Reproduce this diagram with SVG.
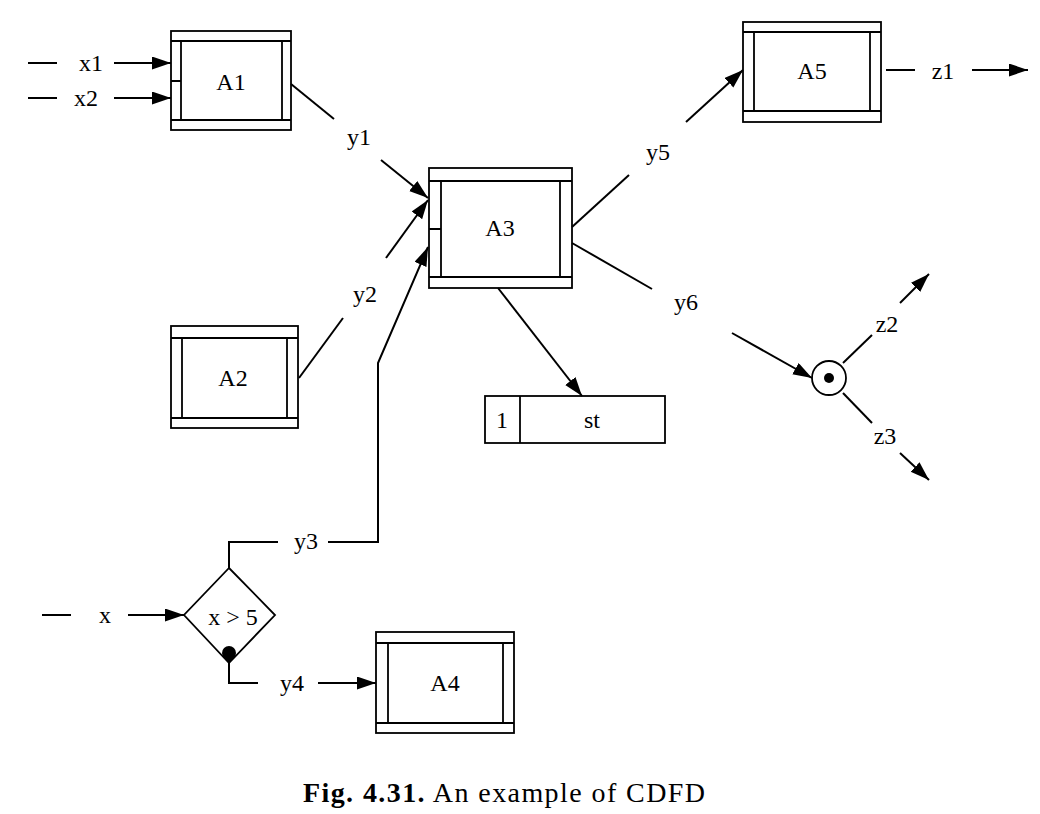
<svg xmlns="http://www.w3.org/2000/svg" width="1040" height="814" viewBox="0 0 1040 814">
<style>
.b{fill:#fff;stroke:#000;stroke-width:1.8}
.s{fill:none;stroke:#000;stroke-width:1.8}
.l{fill:none;stroke:#000;stroke-width:2}
.a{fill:none;stroke:#000;stroke-width:2;marker-end:url(#arr)}
text{font-family:"Liberation Serif","Times New Roman",serif;font-size:24px;fill:#000;text-anchor:middle}
</style>
<defs>
<marker id="arr" markerUnits="userSpaceOnUse" markerWidth="20" markerHeight="14" refX="19" refY="6.5" orient="auto">
<path d="M0,0 L19,6.5 L0,13 z" fill="#000"/>
</marker>
</defs>
<rect width="1040" height="814" fill="#fff"/>

<g id="A1">
<rect class="b" x="171" y="31" width="120" height="99"/>
<path class="s" d="M171,41 H291 M171,120 H291 M181,41 V120 M282,41 V120 M171,81 H181"/>
<text x="231" y="90">A1</text>
</g>
<g id="A2">
<rect class="b" x="171" y="326" width="127" height="102"/>
<path class="s" d="M171,338 H298 M171,418 H298 M182,338 V418 M287,338 V418"/>
<text x="233" y="386">A2</text>
</g>
<g id="A3">
<rect class="b" x="429" y="168" width="143" height="120"/>
<path class="s" d="M429,181 H572 M429,277 H572 M441,181 V277 M560,181 V277 M429,229 H441"/>
<text x="500" y="236">A3</text>
</g>
<g id="A5">
<rect class="b" x="743" y="22" width="138" height="100"/>
<path class="s" d="M743,32 H881 M743,111 H881 M754,32 V111 M870,32 V111"/>
<text x="812" y="79">A5</text>
</g>
<g id="A4">
<rect class="b" x="376" y="632" width="138" height="101"/>
<path class="s" d="M376,643 H514 M376,723 H514 M388,643 V723 M503,643 V723"/>
<text x="445" y="691">A4</text>
</g>
<g id="st">
<rect class="b" x="485" y="396" width="180" height="47"/>
<line class="s" x1="520" y1="396" x2="520" y2="443"/>
<text x="502" y="428">1</text>
<text x="592" y="428">st</text>
</g>
<g id="decision">
<polygon class="b" points="229,568 275,615 229,663 184,615"/>
<circle cx="229" cy="653" r="7" fill="#000"/>
<polygon points="222,656 236,656 229,663" fill="#000"/>
<text x="233" y="625">x &gt; 5</text>
</g>
<g id="merge">
<circle class="b" cx="829" cy="378" r="17"/>
<circle cx="829" cy="378" r="5" fill="#000"/>
</g>

<g id="connectors">
<line class="l" x1="28" y1="63" x2="57" y2="63"/>
<line class="a" x1="114" y1="63" x2="171" y2="63"/>
<line class="l" x1="28" y1="98" x2="57" y2="98"/>
<line class="a" x1="114" y1="98" x2="171" y2="98"/>
<line class="l" x1="291" y1="84" x2="334" y2="119"/>
<line class="a" x1="381" y1="160" x2="428" y2="198"/>
<line class="l" x1="299" y1="378" x2="343" y2="318"/>
<line class="a" x1="386" y1="258" x2="428" y2="200"/>
<path class="l" d="M229,568 V542 H278"/>
<path class="a" d="M328,542 H378 V363 L428,247"/>
<path class="l" d="M229,663 V683 H258"/>
<line class="a" x1="318" y1="683" x2="376" y2="683"/>
<line class="l" x1="42" y1="615" x2="71" y2="615"/>
<line class="a" x1="128" y1="615" x2="184" y2="615"/>
<line class="a" x1="498" y1="288" x2="582" y2="396"/>
<line class="l" x1="572" y1="227" x2="629" y2="175"/>
<line class="a" x1="686" y1="122" x2="743" y2="70"/>
<line class="l" x1="886" y1="70" x2="915" y2="70"/>
<line class="a" x1="972" y1="70" x2="1028" y2="70"/>
<line class="l" x1="572" y1="243" x2="652" y2="289"/>
<line class="a" x1="732" y1="333" x2="812" y2="378"/>
<line class="l" x1="843" y1="363" x2="872" y2="335"/>
<line class="a" x1="900" y1="303" x2="929" y2="274"/>
<line class="l" x1="843" y1="393" x2="872" y2="423"/>
<line class="a" x1="900" y1="453" x2="929" y2="480"/>
<text x="91" y="71">x1</text>
<text x="86" y="106">x2</text>
<text x="359" y="145">y1</text>
<text x="365" y="302">y2</text>
<text x="306" y="549">y3</text>
<text x="292" y="691">y4</text>
<text x="105" y="623">x</text>
<text x="658" y="160">y5</text>
<text x="686" y="310">y6</text>
<text x="943" y="79">z1</text>
<text x="887" y="332">z2</text>
<text x="885" y="444">z3</text>
</g>

<text x="504" y="802" textLength="402" lengthAdjust="spacing" style="font-size:28px"><tspan font-weight="bold">Fig. 4.31.</tspan> An example of CDFD</text>
</svg>
